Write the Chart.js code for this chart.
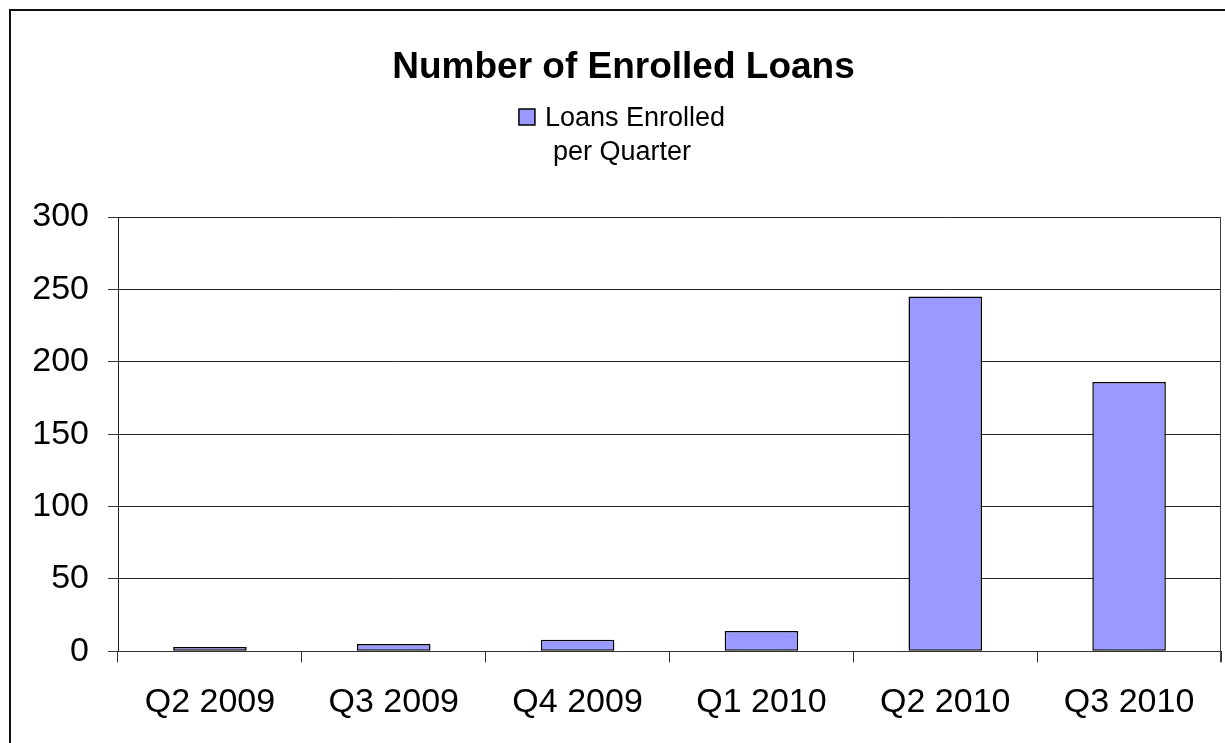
<!DOCTYPE html>
<html>
<head>
<meta charset="utf-8">
<script src="https://cdn.jsdelivr.net/npm/chart.js@4.4.1/dist/chart.umd.min.js"></script>
<style>
  html, body { margin: 0; padding: 0; background: #fff; }
  #wrap { width: 1225px; height: 743px; position: relative; }
</style>
</head>
<body>
<div id="wrap"><canvas id="c" width="1225" height="743"></canvas></div>
<script>
const categories = ['Q2 2009', 'Q3 2009', 'Q4 2009', 'Q1 2010', 'Q2 2010', 'Q3 2010'];
const loansEnrolled = [3, 5, 8, 14, 245, 186];
const seriesLabelLines = ['Loans Enrolled', 'per Quarter'];
const chartTitle = 'Number of Enrolled Loans';
const yMin = 0, yMax = 300, yStep = 50;

const FONT = "'Liberation Sans', Arial, sans-serif";
const BAR_FILL = '#9999FF';

const framePlugin = {
  id: 'frame',
  beforeDraw(chart) {
    const ctx = chart.ctx;
    ctx.save();
    ctx.fillStyle = '#fff';
    ctx.fillRect(0, 0, chart.width, chart.height);
    ctx.restore();
  },
  afterDraw(chart) {
    const ctx = chart.ctx;
    const a = chart.chartArea;
    ctx.save();
    ctx.strokeStyle = '#111';
    ctx.lineWidth = 2;
    ctx.beginPath();
    ctx.moveTo(10, chart.height + 5);
    ctx.lineTo(10, 10);
    ctx.lineTo(chart.width + 5, 10);
    ctx.stroke();
    ctx.strokeStyle = '#444';
    ctx.lineWidth = 1;
    ctx.beginPath();
    const xr = Math.round(a.right) - 0.5;
    ctx.moveTo(xr, a.top);
    ctx.lineTo(xr, a.bottom + 11);
    ctx.stroke();
    ctx.restore();
  }
};

const legendPlugin = {
  id: 'wrapLegend',
  afterDraw(chart) {
    const ctx = chart.ctx;
    const ds = chart.data.datasets[0];
    ctx.save();
    ctx.font = "27px " + FONT;
    ctx.fillStyle = '#000';
    ctx.textBaseline = 'alphabetic';
    const w1 = ctx.measureText(seriesLabelLines[0]).width;
    const boxSize = 16, gap = 10;
    const total = boxSize + gap + w1;
    const cx = 622;
    const left = cx - total / 2;
    ctx.fillStyle = ds.backgroundColor;
    ctx.fillRect(left, 109, boxSize, boxSize);
    ctx.strokeStyle = '#000';
    ctx.lineWidth = 1.5;
    ctx.strokeRect(left, 109, boxSize, boxSize);
    ctx.fillStyle = '#000';
    ctx.textAlign = 'left';
    ctx.fillText(seriesLabelLines[0], left + boxSize + gap, 126);
    ctx.textAlign = 'center';
    ctx.fillText(seriesLabelLines[1], cx, 160);
    ctx.restore();
  }
};

new Chart(document.getElementById('c'), {
  type: 'bar',
  data: {
    labels: categories,
    datasets: [{
      label: seriesLabelLines.join(' '),
      data: loansEnrolled,
      backgroundColor: BAR_FILL,
      borderColor: '#000',
      borderWidth: 1.5,
      borderSkipped: false,
      barPercentage: 0.4,
      categoryPercentage: 1.0
    }]
  },
  options: {
    responsive: false,
    animation: false,
    devicePixelRatio: 1,
    layout: { padding: { left: 26, right: 4, top: 0, bottom: 0 } },
    plugins: {
      legend: { display: false },
      tooltip: { enabled: false },
      title: {
        display: true,
        text: chartTitle,
        color: '#000',
        font: { family: FONT, size: 37, weight: 'bold', lineHeight: 1.2 },
        padding: { top: 46, bottom: 126.6 }
      }
    },
    scales: {
      x: {
        offset: true,
        grid: {
          display: true,
          offset: true,
          drawOnChartArea: false,
          drawTicks: true,
          tickLength: 11,
          tickColor: '#333',
          lineWidth: 1
        },
        border: { display: true, color: '#333', width: 1 },
        ticks: {
          color: '#000',
          padding: 22.5,
          maxRotation: 0,
          autoSkip: false,
          font: { family: FONT, size: 34, lineHeight: 1.05 }
        }
      },
      y: {
        min: yMin,
        max: yMax,
        afterFit(scale) { scale.width = 92; },
        grid: {
          color: '#222',
          lineWidth: 1,
          drawTicks: true,
          tickLength: 10,
          tickColor: '#333'
        },
        border: { display: true, color: '#222', width: 1 },
        ticks: {
          stepSize: yStep,
          color: '#000',
          padding: 19,
          font: { family: FONT, size: 34, lineHeight: 1.2 }
        }
      }
    }
  },
  plugins: [framePlugin, legendPlugin]
});
</script>
</body>
</html>
